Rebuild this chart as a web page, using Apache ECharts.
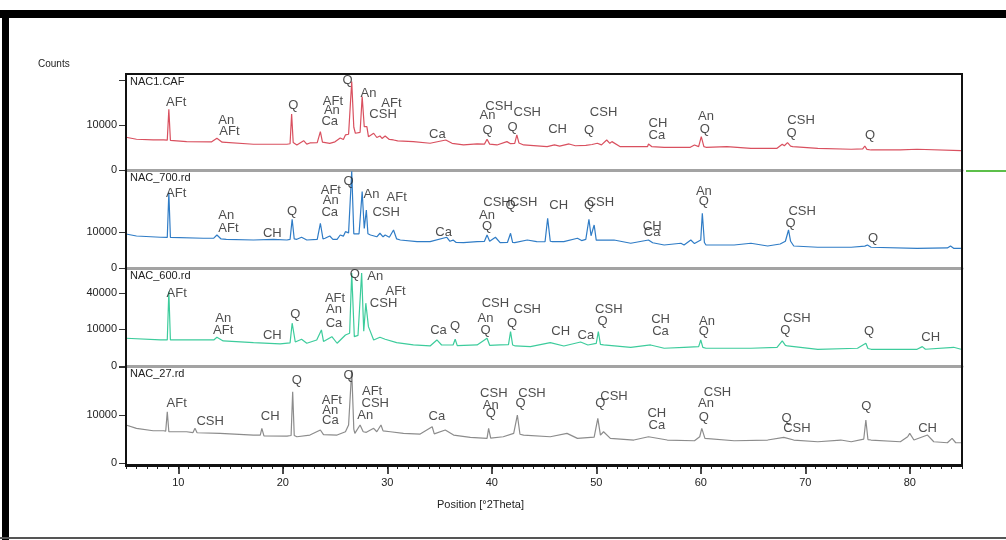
<!DOCTYPE html>
<html>
<head>
<meta charset="utf-8">
<script src="https://cdn.jsdelivr.net/npm/echarts@6/dist/echarts.min.js"></script>
<style>
  html, body { margin: 0; padding: 0; background: #fff; }
  #xrd { width: 1006px; height: 540px; }
</style>
</head>
<body>
<div id="xrd"></div>
<script>
// sample names, top panel first
const sampleNames = ['NAC1.CAF', 'NAC_700.rd', 'NAC_600.rd', 'NAC_27.rd'];

// [2theta, counts]
const cafPattern = [
  [5.0, 5280], [6.0, 4650], [7.6, 4440], [8.6, 4440], [8.95, 4400], [9.1, 18200], [9.25, 4300],
  [10.8, 3960], [13.2, 3900], [13.7, 4960], [14.2, 3800], [17.2, 3260], [20.4, 3260], [20.7, 3400],
  [20.85, 15480], [21.0, 3700], [21.35, 3090], [22.0, 4240], [22.3, 3300], [22.6, 3600], [23.3, 3700],
  [23.6, 7240], [23.8, 3800], [24.5, 3500], [25.0, 3900], [25.5, 5060], [25.8, 4600], [26.0, 6050],
  [26.3, 6300], [26.6, 38500], [26.8, 9000], [26.95, 6650], [27.4, 7000], [27.6, 26530], [27.8, 9260],
  [28.05, 9260], [28.2, 5480], [28.7, 6650], [29.0, 5200], [29.3, 5710], [29.5, 4900], [29.8, 5710],
  [30.2, 4600], [30.6, 4440], [31.0, 4200], [32.5, 3960], [34.1, 3520], [35.6, 4440], [36.2, 3500],
  [37.3, 3090], [38.6, 3340], [39.3, 3300], [39.55, 4650], [39.8, 3300], [40.5, 3090], [41.45, 3960],
  [41.8, 3400], [42.2, 3500], [42.4, 6050], [42.6, 3600], [43.05, 3090], [45.3, 2680], [46.0, 3100],
  [46.5, 2800], [47.4, 3340], [48.0, 2900], [49.0, 3000], [49.6, 3200], [50.1, 3520], [50.5, 3100],
  [51.0, 4440], [51.3, 3500], [51.5, 3960], [52.3, 2680], [54.9, 2680], [55.0, 3340], [55.3, 2700],
  [56.5, 2540], [58.1, 2540], [59.0, 2540], [59.4, 3090], [59.8, 2700], [60.05, 5480], [60.3, 2700],
  [60.5, 2540], [62.5, 2680], [64.8, 2320], [67.3, 2320], [67.8, 3260], [68.0, 2900], [68.3, 3680],
  [68.6, 2800], [68.8, 2680], [71.2, 2320], [74.4, 2120], [75.5, 2200], [75.7, 2840], [75.9, 2100],
  [76.3, 1975], [79.1, 1975], [80.7, 2120], [84.9, 1840]
];

const nac700Pattern = [
  [5.0, 8920], [6.0, 7900], [8.3, 7280], [8.95, 7200], [9.1, 44000], [9.25, 7200], [12.4, 6810],
  [13.4, 6900], [13.7, 8400], [14.1, 6500], [14.6, 6350], [17.2, 6050], [19.1, 6350], [20.4, 6050],
  [20.7, 6300], [20.9, 18300], [21.1, 6500], [21.35, 6350], [21.8, 7280], [22.3, 6050], [23.3, 6300],
  [23.6, 15410], [23.85, 6500], [24.05, 6810], [24.5, 7900], [24.8, 6350], [25.2, 6350], [25.5, 8400],
  [25.8, 7800], [26.0, 10160], [26.3, 9500], [26.6, 72000], [26.8, 9000], [26.9, 8400], [27.3, 9000],
  [27.6, 44910], [27.8, 12000], [28.0, 25960], [28.15, 9000], [28.4, 8400], [29.0, 7500], [29.3, 9290],
  [29.6, 7500], [29.8, 8400], [30.2, 7300], [30.6, 11140], [30.9, 6500], [31.25, 6050], [32.85, 5340],
  [34.1, 5340], [35.7, 7280], [36.0, 5500], [36.3, 6000], [36.6, 5000], [37.3, 4940], [38.6, 5340],
  [39.3, 5500], [39.55, 8400], [39.8, 5500], [40.35, 7280], [40.8, 4940], [41.5, 5000], [41.8, 9290],
  [42.0, 5000], [42.2, 4940], [43.4, 6050], [44.3, 5340], [45.1, 5300], [45.35, 19060], [45.6, 5500],
  [45.8, 5340], [46.9, 5340], [48.2, 6810], [48.6, 5800], [49.0, 6300], [49.3, 18300], [49.5, 8000],
  [49.8, 14270], [50.0, 6000], [50.1, 5340], [51.7, 6050], [53.3, 4710], [55.0, 6050], [55.4, 4900],
  [56.5, 4080], [58.1, 4710], [58.4, 4080], [59.05, 6050], [59.4, 4600], [60.0, 6000], [60.15, 23080],
  [60.35, 5000], [60.5, 4080], [63.2, 4080], [64.8, 4710], [66.4, 3730], [67.6, 4440], [68.1, 5500],
  [68.4, 11140], [68.6, 5500], [68.9, 3730], [71.2, 3310], [74.4, 3310], [75.7, 3700], [75.95, 4080],
  [76.3, 3310], [80.7, 2990], [83.6, 3100], [83.9, 3730], [84.2, 2990], [84.9, 2990]
];

const nac600Pattern = [
  [5.0, 5760], [8.3, 5070], [8.95, 5070], [9.1, 41440], [9.25, 5070], [13.4, 5070], [13.7, 6180],
  [14.3, 4690], [17.2, 4070], [19.75, 3630], [20.7, 4000], [20.9, 13690], [21.2, 4300], [21.8, 5350],
  [22.3, 3870], [23.25, 5070], [23.7, 9730], [23.9, 4500], [24.7, 6440], [25.2, 3870], [26.0, 7210],
  [26.4, 8000], [26.6, 64500], [26.85, 6440], [27.2, 7000], [27.55, 64500], [27.75, 9000], [27.95, 29510],
  [28.2, 11590], [28.7, 5070], [29.3, 6180], [29.8, 5350], [30.9, 4070], [32.5, 3310], [34.1, 3000],
  [34.75, 5070], [35.2, 3300], [36.3, 3300], [36.5, 5350], [36.7, 3100], [38.6, 3310], [39.55, 5760],
  [39.8, 3200], [40.8, 3310], [41.6, 3400], [41.8, 8830], [42.0, 3300], [42.25, 3000], [43.7, 2800],
  [45.6, 4070], [46.9, 3000], [48.5, 4300], [49.2, 3300], [50.0, 3800], [50.2, 8830], [50.4, 3500],
  [50.7, 3310], [53.3, 2620], [55.2, 3310], [56.5, 2350], [58.4, 2620], [59.8, 2800], [60.0, 5070],
  [60.2, 2600], [60.5, 2350], [64.8, 2350], [67.3, 2620], [67.8, 4690], [68.1, 3200], [68.3, 3000],
  [71.2, 2090], [75.0, 2350], [75.8, 3870], [76.0, 2300], [76.3, 2090], [80.7, 2090], [81.2, 2800],
  [81.5, 2100], [84.2, 2620], [84.9, 2090]
];

const nac27Pattern = [
  [5.0, 6270], [6.0, 5230], [7.6, 4530], [8.6, 4530], [8.8, 4400], [8.95, 11430], [9.1, 4250],
  [10.8, 4250], [11.4, 4000], [11.6, 5230], [11.8, 3980], [14.0, 3830], [17.2, 3400], [17.85, 3400],
  [18.0, 5230], [18.2, 3200], [20.4, 3160], [20.8, 3300], [20.95, 22060], [21.1, 3300], [21.35, 3000],
  [22.6, 3400], [23.6, 4730], [23.9, 3500], [25.2, 3400], [26.0, 4250], [26.3, 6270], [26.6, 37540],
  [26.8, 5000], [26.9, 3830], [27.4, 6270], [27.7, 4250], [28.0, 4100], [28.7, 5230], [29.0, 4250],
  [29.4, 6270], [29.6, 4500], [30.3, 4250], [31.55, 3830], [33.15, 3650], [34.3, 5720], [34.5, 3700],
  [35.55, 4730], [36.35, 3400], [37.95, 2870], [39.55, 2650], [39.7, 5230], [39.9, 2700], [41.1, 3000],
  [42.1, 3830], [42.45, 10000], [42.7, 3600], [43.05, 3400], [45.6, 3000], [47.2, 3830], [48.2, 2650],
  [49.8, 2900], [50.15, 8670], [50.4, 3400], [50.7, 4250], [51.35, 2650], [53.6, 2300], [55.0, 3000],
  [56.8, 2300], [59.4, 2160], [59.9, 3000], [60.1, 5230], [60.4, 2650], [63.2, 2160], [66.4, 2300],
  [67.95, 2870], [68.9, 2300], [71.2, 1970], [73.4, 2300], [74.4, 1970], [75.6, 2500], [75.8, 8030],
  [76.0, 2400], [76.3, 2300], [79.1, 1970], [79.8, 3000], [80.0, 3830], [80.4, 2300], [81.7, 3400],
  [82.3, 1970], [83.6, 1790], [84.05, 2650], [84.4, 1790], [84.9, 1790]
];

// phase labels: [2theta, counts, text]
const cafLabels = [
  [9.8, 22170, 'AFt'], [14.6, 11860, 'An'], [14.9, 7510, 'AFt'], [21.0, 20230, 'Q'],
  [24.8, 22830, 'AFt'], [24.7, 17190, 'An'], [24.5, 11380, 'Ca'], [26.2, 39110, 'Q'],
  [28.2, 28520, 'An'], [30.4, 21510, 'AFt'], [29.6, 14940, 'CSH'], [34.8, 6400, 'Ca'],
  [40.7, 19600, 'CSH'], [39.6, 14400, 'An'], [39.6, 7900, 'Q'], [43.4, 16040, 'CSH'],
  [42.0, 9130, 'Q'], [46.3, 8300, 'CH'], [50.7, 16040, 'CSH'], [49.3, 7900, 'Q'],
  [55.9, 10900, 'CH'], [55.8, 6050, 'Ca'], [60.5, 13870, 'An'], [60.4, 8300, 'Q'],
  [69.6, 11860, 'CSH'], [68.7, 6760, 'Q'], [76.2, 6050, 'Q']
];

const nac700Labels = [
  [9.8, 43400, 'AFt'], [14.6, 21670, 'An'], [14.8, 12350, 'AFt'], [19.0, 9450, 'CH'],
  [20.9, 25070, 'Q'], [24.6, 46940, 'AFt'], [24.6, 35680, 'An'], [24.5, 24200, 'Ca'],
  [26.3, 58400, 'Q'], [28.5, 42260, 'An'], [30.9, 38900, 'AFt'], [29.9, 24200, 'CSH'],
  [35.4, 10000, 'Ca'], [40.5, 32900, 'CSH'], [39.55, 21670, 'An'], [39.55, 13160, 'Q'],
  [41.8, 30620, 'Q'], [43.05, 32900, 'CSH'], [46.4, 30620, 'CH'], [49.3, 30620, 'Q'],
  [50.4, 32900, 'CSH'], [55.35, 13160, 'CH'], [55.35, 9620, 'Ca'], [60.3, 44910, 'An'],
  [60.3, 33920, 'Q'], [69.7, 24460, 'CSH'], [68.6, 15410, 'Q'], [76.5, 6810, 'Q']
];

const nac600Labels = [
  [9.85, 39680, 'AFt'], [14.3, 17080, 'An'], [14.3, 9730, 'AFt'], [19.0, 7210, 'CH'],
  [21.2, 19520, 'Q'], [25.0, 34410, 'AFt'], [24.9, 23540, 'An'], [24.9, 13690, 'Ca'],
  [26.9, 62150, 'Q'], [28.85, 59870, 'An'], [30.8, 41440, 'AFt'], [29.65, 29510, 'CSH'],
  [34.9, 9730, 'Ca'], [36.5, 11590, 'Q'], [40.35, 29510, 'CSH'], [39.4, 17080, 'An'],
  [39.4, 9730, 'Q'], [43.4, 23540, 'CSH'], [41.95, 13690, 'Q'], [46.6, 8830, 'CH'],
  [49.0, 7210, 'Ca'], [51.2, 23540, 'CSH'], [50.6, 14730, 'Q'], [56.15, 15880, 'CH'],
  [56.15, 8830, 'Ca'], [60.6, 14730, 'An'], [60.3, 8830, 'Q'], [69.2, 17080, 'CSH'],
  [68.1, 9730, 'Q'], [76.1, 8830, 'Q'], [82.0, 6180, 'CH']
];

const nac27Labels = [
  [9.85, 15470, 'AFt'], [13.05, 7400, 'CSH'], [18.8, 9310, 'CH'], [21.35, 29900, 'Q'],
  [24.7, 17230, 'AFt'], [24.55, 12190, 'An'], [24.55, 8030, 'Ca'], [26.3, 33610, 'Q'],
  [28.55, 22060, 'AFt'], [28.85, 15470, 'CSH'], [27.9, 10000, 'An'], [34.75, 9310, 'Ca'],
  [40.2, 21080, 'CSH'], [43.85, 21080, 'CSH'], [39.9, 14600, 'An'], [39.9, 10720, 'Q'],
  [42.75, 15470, 'Q'], [51.7, 19080, 'CSH'], [50.4, 15470, 'Q'], [55.8, 10720, 'CH'],
  [55.8, 6270, 'Ca'], [61.6, 21700, 'CSH'], [60.5, 15470, 'An'], [60.3, 9060, 'Q'],
  [68.2, 8670, 'Q'], [69.2, 5230, 'CSH'], [75.85, 13760, 'Q'], [81.7, 5230, 'CH']
];

// axis ticks
const xMajorTicks = [10, 20, 30, 40, 50, 60, 70, 80];
const xMinorTicks = [];
for (let t = 5; t <= 85; t++) xMinorTicks.push(t);
// y ticks per panel, in counts (axis is square-root)
const yTickCounts = [[0, 10000, 40000], [0, 10000], [0, 10000, 40000], [0, 10000, 40000]];
const yLabelCounts = [[0, 10000], [0, 10000], [0, 10000, 40000], [0, 10000]];

const patterns = [cafPattern, nac700Pattern, nac600Pattern, nac27Pattern];
const phaseLabels = [cafLabels, nac700Labels, nac600Labels, nac27Labels];
const colors = ['#d9505f', '#2f7cc6', '#3dcc9c', '#8c8c8c'];

// panel layout (sqrt scale range for each)
const panelBox = [
  { top: 74, height: 96, min: 0, max: 213 },
  { top: 170, height: 98, min: 0, max: 272 },
  { top: 268, height: 98, min: 0, max: 268 },
  { top: 366, height: 99, min: -4, max: 202 }
];

const font = 'Liberation Sans';
const sq = v => Math.sqrt(v);

const chart = echarts.init(document.getElementById('xrd'));

const grid = panelBox.map(p => ({ left: 126, width: 836, top: p.top, height: p.height }));
// thin strip under the plot that only carries the long major ticks
grid.push({ left: 126, width: 836, top: 466, height: 20 });

const xAxis = panelBox.map((p, i) => {
  const last = i === 3;
  return {
    type: 'value',
    gridIndex: i,
    position: 'bottom',
    min: 5,
    max: 85,
    axisLine: {
      show: true,
      onZero: false,
      lineStyle: last ? { color: '#111', width: 2 } : { color: '#a3a3a3', width: 3 }
    },
    axisTick: {
      show: last,
      customValues: xMinorTicks,
      length: 4,
      lineStyle: { color: '#222', width: 1 }
    },
    axisLabel: {
      show: last,
      customValues: xMajorTicks,
      color: '#222',
      fontSize: 11,
      fontFamily: font,
      margin: 12
    },
    splitLine: { show: false }
  };
});

xAxis.push({
  type: 'value',
  gridIndex: 4,
  position: 'top',
  min: 5,
  max: 85,
  axisLine: { show: false, onZero: false },
  axisTick: { show: true, inside: true, customValues: xMajorTicks, length: 8, lineStyle: { color: '#111', width: 1.5 } },
  axisLabel: { show: false },
  splitLine: { show: false }
});

const yAxis = panelBox.map((p, i) => ({
  type: 'value',
  gridIndex: i,
  min: p.min,
  max: p.max,
  axisLine: { show: true, lineStyle: { color: '#111', width: 2 } },
  axisTick: {
    show: true,
    customValues: yTickCounts[i].map(sq),
    length: 7,
    lineStyle: { color: '#333' }
  },
  axisLabel: {
    customValues: yLabelCounts[i].map(sq),
    formatter: v => String(Math.round(v * v)),
    color: '#222',
    fontSize: 11,
    fontFamily: font,
    margin: 9
  },
  splitLine: { show: false }
}));
yAxis.push({ type: 'value', gridIndex: 4, show: false, min: 0, max: 1 });

const series = [];
patterns.forEach((pat, i) => {
  series.push({
    type: 'line',
    xAxisIndex: i,
    yAxisIndex: i,
    data: pat.map(d => [d[0], sq(d[1])]),
    showSymbol: false,
    lineStyle: { color: colors[i], width: 1.2 },
    z: 3
  });
  series.push({
    type: 'scatter',
    xAxisIndex: i,
    yAxisIndex: i,
    data: phaseLabels[i].map(d => [d[0], sq(d[1]), d[2]]),
    symbolSize: 1,
    itemStyle: { color: 'transparent' },
    label: {
      show: true,
      position: 'inside',
      formatter: p => p.value[2],
      color: '#222',
      fontSize: 13,
      fontFamily: font
    },
    z: 5
  });
});

const graphic = [
  // page frame
  { type: 'rect', shape: { x: 0, y: 10, width: 1006, height: 8 }, style: { fill: '#000' } },
  { type: 'rect', shape: { x: 2, y: 10, width: 7, height: 530 }, style: { fill: '#000' } },
  { type: 'line', shape: { x1: 0, y1: 538, x2: 1006, y2: 538 }, style: { stroke: '#555', lineWidth: 2 } },
  // plot frame
  { type: 'rect', shape: { x: 126, y: 74, width: 836, height: 392 }, style: { fill: 'none', stroke: '#111', lineWidth: 2 }, z: 10 },
  { type: 'line', shape: { x1: 966, y1: 171, x2: 1006, y2: 171 }, style: { stroke: '#5cbf4a', lineWidth: 2 } },
  { type: 'text', left: 38, top: 59, style: { text: 'Counts', font: '10px ' + font, fill: '#222' } },
  { type: 'text', left: 437, top: 499, style: { text: 'Position [°2Theta]', font: '11px ' + font, fill: '#222' } }
];
sampleNames.forEach((name, i) => {
  graphic.push({
    type: 'text',
    left: 130,
    top: panelBox[i].top + 2,
    style: { text: name, font: '11px ' + font, fill: '#222' },
    z: 11
  });
});

chart.setOption({
  animation: false,
  grid,
  xAxis,
  yAxis,
  series,
  graphic
});
</script>
</body>
</html>
